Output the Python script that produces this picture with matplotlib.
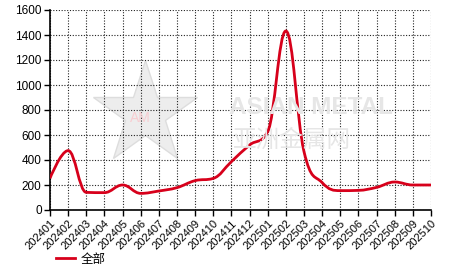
import matplotlib
matplotlib.use("Agg")
import matplotlib.pyplot as plt
from matplotlib.path import Path
from matplotlib.patches import PathPatch
from matplotlib.lines import Line2D

months = ["202401", "202402", "202403", "202404", "202405", "202406", "202407",
          "202408", "202409", "202410", "202411", "202412", "202501", "202502",
          "202503", "202504", "202505", "202506", "202507", "202508", "202509",
          "202510"]
values = [253, 475, 141, 139, 200, 133, 152, 179, 235, 253, 387, 520, 627, 1432,
          467, 219, 155, 157, 181, 224, 200, 200]
series_name = "全部"
y_ticks = [0, 200, 400, 600, 800, 1000, 1200, 1400, 1600]

plt.rcParams["font.family"] = ["Liberation Sans", "Noto Sans CJK SC", "DejaVu Sans"]

RED = "#d7001b"


def spline_path(xs, ys, smoothing=1.5):
    # smooth curve through the points, built from cubic bezier segments
    denom = smoothing + 1
    n = len(xs)
    ctrl = []
    for i in range(n):
        if i == 0 or i == n - 1:
            ctrl.append(None)
            continue
        lx = (smoothing * xs[i] + xs[i - 1]) / denom
        ly = (smoothing * ys[i] + ys[i - 1]) / denom
        rx = (smoothing * xs[i] + xs[i + 1]) / denom
        ry = (smoothing * ys[i] + ys[i + 1]) / denom
        corr = (ry - ly) * (rx - xs[i]) / (rx - lx) + ys[i] - ry
        ly += corr
        ry += corr
        if ly > max(ys[i - 1], ys[i]):
            ly = max(ys[i - 1], ys[i]); ry = 2 * ys[i] - ly
        elif ly < min(ys[i - 1], ys[i]):
            ly = min(ys[i - 1], ys[i]); ry = 2 * ys[i] - ly
        if ry > max(ys[i + 1], ys[i]):
            ry = max(ys[i + 1], ys[i]); ly = 2 * ys[i] - ry
        elif ry < min(ys[i + 1], ys[i]):
            ry = min(ys[i + 1], ys[i]); ly = 2 * ys[i] - ry
        ctrl.append(((lx, ly), (rx, ry)))
    verts = [(xs[0], ys[0])]
    codes = [Path.MOVETO]
    for i in range(1, n):
        c1 = ctrl[i - 1][1] if ctrl[i - 1] else (xs[i - 1], ys[i - 1])
        c2 = ctrl[i][0] if ctrl[i] else (xs[i], ys[i])
        verts += [c1, c2, (xs[i], ys[i])]
        codes += [Path.CURVE4] * 3
    return Path(verts, codes)


fig = plt.figure(figsize=(4.66, 2.72), dpi=100)
ax = fig.add_axes([50 / 466, 1 - 210 / 272, 381 / 466, 200 / 272])

# watermark: star logo + site name
fig.add_artist(Line2D([145 / 466], [1 - 114 / 272], marker="*", markersize=78,
                      markerfacecolor="#ededed", markeredgecolor="#dddddd",
                      markeredgewidth=1, linestyle="none", transform=fig.transFigure,
                      zorder=0))
fig.text(140 / 466, 1 - 118 / 272, "AM", fontsize=10, color="#f8cdd1", ha="center",
         va="center", zorder=0)
fig.text(311 / 466, 1 - 108 / 272, "ASIAN METAL", fontsize=17.5, fontweight="bold",
         color="#e6e6e6", ha="center", va="center", zorder=0)
fig.text(292 / 466, 1 - 140 / 272, "亚洲金属网", fontsize=17, color="#e6e6e6", ha="center",
         va="center", family=["Noto Sans CJK SC"], zorder=0)

xs = list(range(len(months)))
ax.add_patch(PathPatch(spline_path(xs, values), facecolor="none", edgecolor=RED,
                       linewidth=2, zorder=3))

ax.set_xlim(0, len(months) - 1)
ax.set_ylim(0, 1600)
ax.set_xticks(xs)
ax.set_xticklabels(months, rotation=45, ha="right", rotation_mode="anchor", fontsize=8)
ax.set_yticks(y_ticks)
ax.set_yticklabels([str(v) for v in y_ticks], fontsize=8.5)
ax.grid(True, color="#222222", linestyle=(0, (1, 1.5)), linewidth=0.8)
ax.set_axisbelow(True)
ax.patch.set_alpha(0)
for side in ["top", "right"]:
    ax.spines[side].set_visible(False)
ax.spines["left"].set_linewidth(1.2)
ax.spines["bottom"].set_linewidth(1.2)
ax.tick_params(axis="both", length=4, width=1, pad=2)

handle = Line2D([], [], color=RED, linewidth=2)
fig.legend([handle], [series_name], loc="center left",
           bbox_to_anchor=(56 / 466, 1 - 259 / 272), borderaxespad=0, borderpad=0,
           frameon=False, handlelength=1.5, handletextpad=0.5,
           prop={"family": ["Noto Sans CJK SC"], "size": 9})

fig.savefig("out.png", dpi=100)
